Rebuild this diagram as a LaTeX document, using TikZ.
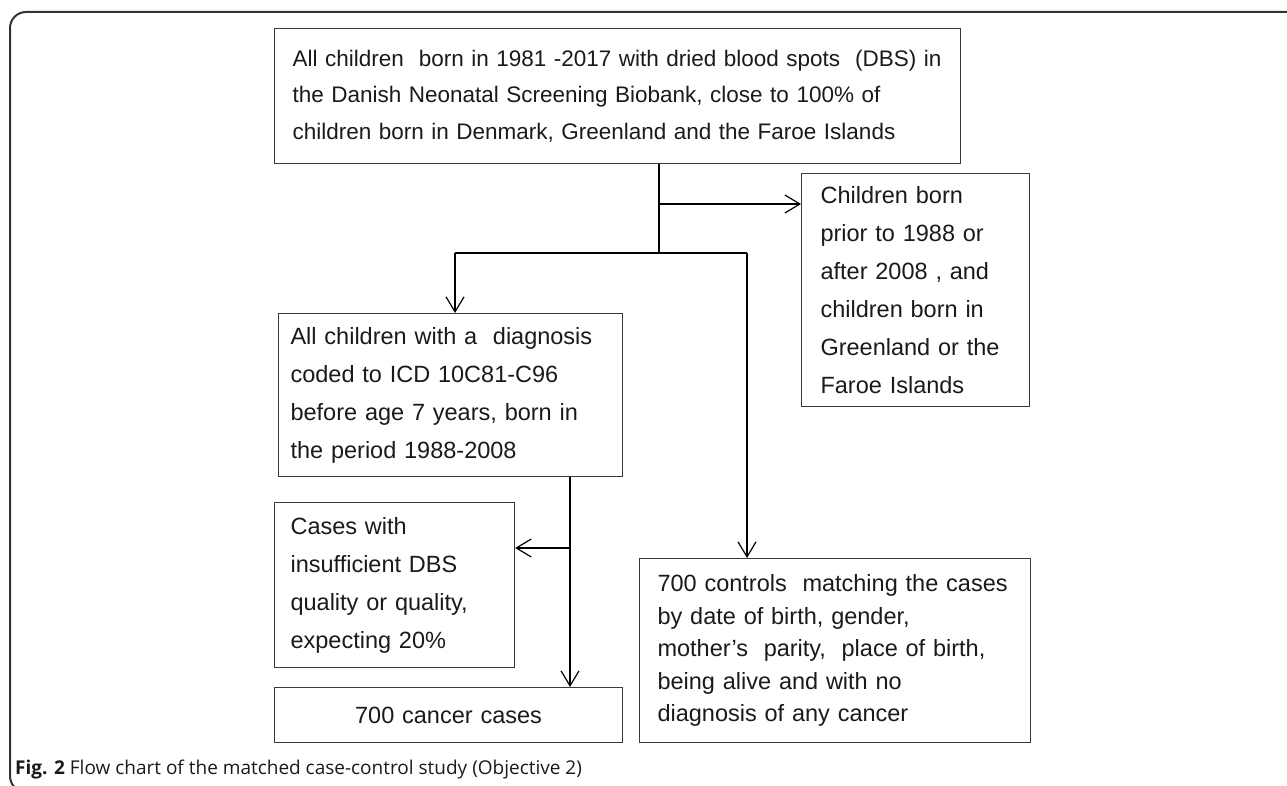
\documentclass[tikz,border=0pt]{standalone}
\usepackage{fontspec}
\setmainfont{Liberation Sans}
\newfontfamily\capfont{Open Sans}
\usetikzlibrary{arrows.meta}
\definecolor{frameC}{HTML}{333333}
\definecolor{boxC}{HTML}{3A3A3A}
\definecolor{txtC}{HTML}{1A1A1A}
\tikzset{
  box/.style={draw=boxC, line width=1.1pt, rectangle, anchor=north west,
    inner ysep=0pt, align=left, text=txtC},
  line/.style={draw=black, line width=1.2pt},
  arr/.style={line, -{Straight Barb[length=15pt,width=18pt,line width=1.2pt]}},
}
\begin{document}
\begin{tikzpicture}[x=1pt,y=-1pt,font=\fontsize{23.5}{38}\selectfont]
\useasboundingbox (0,0) rectangle (1287,786);
% outer frame
\draw[frameC, line width=2pt, rounded corners=16pt] (1310,12) -- (10,12) -- (10,792) -- (1310,792);
% boxes
\node[box, minimum width=686pt, minimum height=135pt, text width=686pt, inner xsep=0pt,
  font=\fontsize{22.5}{36.5}\selectfont] (top) at (274,28)
  {\hspace*{18pt}All children\ \ born in 1981 -2017 with dried blood spots\ \ (DBS) in\\
   \hspace*{18pt}the Danish Neonatal Screening Biobank, close to 100\% of\\
   \hspace*{18pt}children born in Denmark, Greenland and the Faroe Islands};
\node[box, minimum width=228pt, minimum height=233pt, text width=190pt, inner xsep=19pt] (excl) at (801,173)
  {Children born\\ prior to 1988 or\\ after 2008 , and\\ children born in\\ Greenland or the\\ Faroe Islands};
\node[box, minimum width=344pt, minimum height=163pt, text width=320pt, inner xsep=12pt] (diag) at (278,313)
  {All children with a\ \ diagnosis\\ coded to\ ICD 10C81-C96\\ before age 7 years, born in\\ the period 1988-2008};
\node[box, minimum width=240pt, minimum height=165pt, text width=208pt, inner xsep=16pt] (cases) at (274,502)
  {Cases with\\ insufficient DBS\\ quality or quality,\\ expecting 20\%};
\node[box, minimum width=348pt, minimum height=55pt, text width=330pt, inner xsep=9pt, align=center] (cancer) at (274,687)
  {700 cancer cases};
\node[box, minimum width=391pt, minimum height=184pt, text width=355pt, inner xsep=18pt,
  font=\fontsize{23.5}{32.5}\selectfont] (ctrl) at (639,558)
  {700 controls\ \ matching the cases\\ by date of birth, gender,\\ mother’s\ \ parity,\ \ place of birth,\\ being alive and with no\\ diagnosis of any cancer};
% junctions
\coordinate (j1) at (659,204);
\coordinate (sp) at (659,253);
\coordinate (sl) at (455,253);
\coordinate (sr) at (747,253);
\coordinate (j2) at (570,548);
% connectors
\draw[line] (top.south -| sp) -- (sp);
\draw[arr] (j1) -- (j1 -| excl.west);
\draw[line] (sl) -- (sr);
\draw[arr] (sl) -- (sl |- diag.north);
\draw[arr] (sr) -- (sr |- ctrl.north);
\draw[arr] (diag.south -| j2) -- (j2 |- cancer.north);
\draw[arr] (j2) -- (j2 -| cases.east);
% caption
\node[anchor=base west, inner sep=0pt, text=txtC, font=\capfont\fontsize{19}{19}\selectfont] (cap) at (15,774)
  {\textbf{Fig. 2} Flow chart of the matched case-control study (Objective 2)};
\end{tikzpicture}
\end{document}
